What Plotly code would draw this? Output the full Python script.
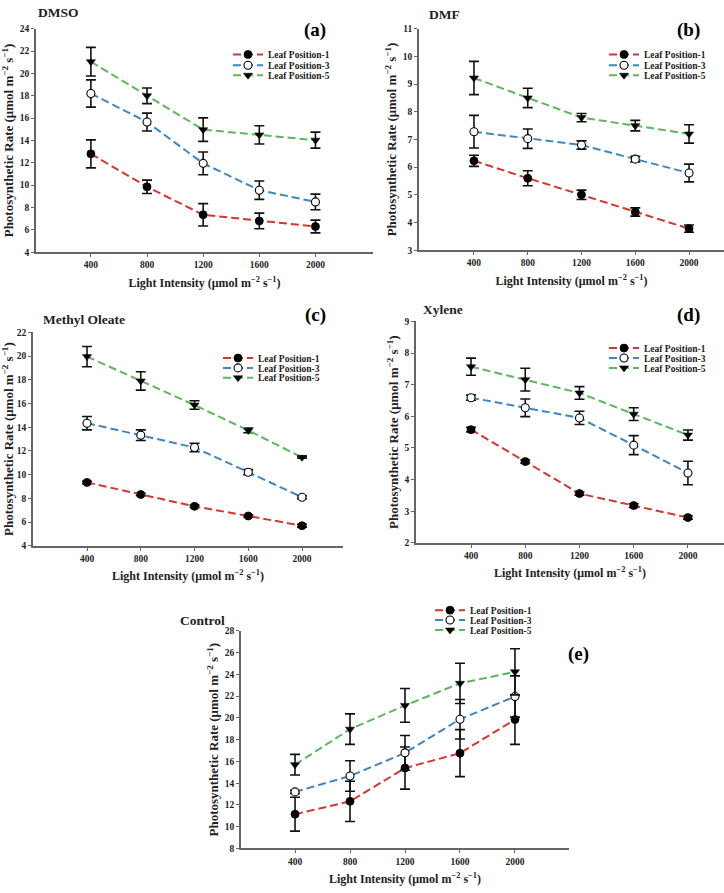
import plotly.graph_objects as go

W, H = 724, 893
light = [400, 800, 1200, 1600, 2000]
series_names = ["Leaf Position-1", "Leaf Position-3", "Leaf Position-5"]

# DMSO
dmso_lp1 = [12.8, 9.85, 7.35, 6.8, 6.3]
dmso_lp1_err = [1.25, 0.6, 1.0, 0.7, 0.57]
dmso_lp3 = [18.2, 15.65, 11.95, 9.55, 8.5]
dmso_lp3_err = [1.22, 0.8, 1.02, 0.82, 0.7]
dmso_lp5 = [21.05, 18.0, 14.97, 14.5, 14.03]
dmso_lp5_err = [1.28, 0.7, 1.05, 0.82, 0.72]
# DMF
dmf_lp1 = [6.23, 5.6, 5.0, 4.38, 3.78]
dmf_lp1_err = [0.2, 0.27, 0.17, 0.15, 0.13]
dmf_lp3 = [7.28, 7.03, 6.8, 6.29, 5.79]
dmf_lp3_err = [0.59, 0.35, 0.15, 0.1, 0.32]
dmf_lp5 = [9.22, 8.5, 7.79, 7.5, 7.2]
dmf_lp5_err = [0.6, 0.35, 0.15, 0.19, 0.33]
# Methyl Oleate
mo_lp1 = [9.35, 8.33, 7.33, 6.52, 5.7]
mo_lp1_err = [0.1, 0.1, 0.1, 0.1, 0.12]
mo_lp3 = [14.34, 13.33, 12.29, 10.21, 8.1]
mo_lp3_err = [0.56, 0.45, 0.36, 0.22, 0.12]
mo_lp5 = [19.95, 17.9, 15.87, 13.73, 11.46]
mo_lp5_err = [0.85, 0.77, 0.36, 0.2, 0.08]
# Xylene
xy_lp1 = [5.58, 4.57, 3.56, 3.18, 2.8]
xy_lp1_err = [0.07, 0.05, 0.05, 0.06, 0.05]
xy_lp3 = [6.59, 6.27, 5.95, 5.09, 4.21]
xy_lp3_err = [0.08, 0.28, 0.21, 0.3, 0.37]
xy_lp5 = [7.57, 7.16, 6.74, 6.07, 5.41]
xy_lp5_err = [0.27, 0.36, 0.2, 0.2, 0.16]
# Control
ct_lp1 = [11.15, 12.33, 15.39, 16.76, 19.85]
ct_lp1_err = [1.56, 1.85, 1.94, 2.16, 2.28]
ct_lp3 = [13.2, 14.66, 16.79, 19.88, 21.97]
ct_lp3_err = [0.15, 1.4, 1.6, 1.82, 1.9]
ct_lp5 = [15.7, 18.97, 21.15, 23.18, 24.24]
ct_lp5_err = [0.95, 1.4, 1.55, 1.85, 2.12]

panels = [
    dict(name="DMSO", tag="(a)", data=[(dmso_lp1, dmso_lp1_err), (dmso_lp3, dmso_lp3_err), (dmso_lp5, dmso_lp5_err)],
         yr=[4, 24], dt=2, box=(36, 373, 24, 250), xr=[9, 2410],
         title=(58, 8), label=(315, 25), leg=(228, [50, 61, 71])),
    dict(name="DMF", tag="(b)", data=[(dmf_lp1, dmf_lp1_err), (dmf_lp3, dmf_lp3_err), (dmf_lp5, dmf_lp5_err)],
         yr=[3, 11], dt=1, box=(419, 724, 24, 248), xr=[-9, 2260],
         title=(444, 10), label=(688, 25), leg=(604, [50, 61, 71])),
    dict(name="Methyl Oleate", tag="(c)", data=[(mo_lp1, mo_lp1_err), (mo_lp3, mo_lp3_err), (mo_lp5, mo_lp5_err)],
         yr=[4, 22], dt=2, box=(33, 343, 331, 547), xr=[-2, 2305],
         title=(84, 318), label=(315, 314), leg=(218, [357, 367, 377])),
    dict(name="Xylene", tag="(d)", data=[(xy_lp1, xy_lp1_err), (xy_lp3, xy_lp3_err), (xy_lp5, xy_lp5_err)],
         yr=[2, 9], dt=1, box=(416, 724, 320, 544), xr=[-6, 2266],
         title=(443, 308), label=(688, 314), leg=(604, [347, 357, 367])),
    dict(name="Control", tag="(e)", data=[(ct_lp1, ct_lp1_err), (ct_lp3, ct_lp3_err), (ct_lp5, ct_lp5_err)],
         yr=[8, 28], dt=2, box=(241, 569, 633, 853), xr=[7, 2393],
         title=(202, 622), label=(578, 656), leg=(430, [612, 622, 632])),
]

colors = ["#d8352f", "#3f86c4", "#5cb85c"]
markers = [
    dict(symbol="circle", size=8, color="black", line=dict(color="black", width=0.8)),
    dict(symbol="circle", size=8, color="white", line=dict(color="black", width=1.1)),
    dict(symbol="triangle-down", size=8, color="black", line=dict(color="black", width=0.5)),
]

FONT = "Liberation Serif"
fig = go.Figure()
layout = dict(width=W, height=H, margin=dict(l=0, r=0, t=0, b=0),
              paper_bgcolor="white", plot_bgcolor="white", showlegend=True,
              font=dict(family=FONT, color="#222"))
annotations = []
legend_idx = 0
for i, p in enumerate(panels):
    k = "" if i == 0 else str(i + 1)
    x0, x1, top, bot = p["box"]
    xd = [x0 / W, min(x1 / W, 1.0)]
    yd = [1 - bot / H, 1 - top / H]
    common = dict(showgrid=False, zeroline=False, showline=True, linecolor="#666", linewidth=1.5,
                  ticks="outside", ticklen=3, tickcolor="#666", tickwidth=1,
                  tickfont=dict(family=FONT, size=9.5, color="#222", weight="bold"))
    layout["xaxis" + k] = dict(domain=xd, range=p["xr"], tickvals=light, anchor="y" + k,
                               title=dict(text="<b>Light Intensity (μmol m<sup>−2</sup> s<sup>−1</sup>)</b>",
                                          font=dict(family=FONT, size=12, color="#222"), standoff=9),
                               **common)
    layout["yaxis" + k] = dict(domain=yd, range=p["yr"], dtick=p["dt"], tick0=0, anchor="x" + k,
                               title=dict(text="<b>Photosynthetic Rate (μmol m<sup>−2</sup> s<sup>−1</sup>)</b>",
                                          font=dict(family=FONT, size=13, color="#222"), standoff=3),
                               **common)
    for j, (vals, errs) in enumerate(p["data"]):
        legend_idx += 1
        lk = "legend" if legend_idx == 1 else "legend" + str(legend_idx)
        fig.add_trace(go.Scatter(
            x=light, y=vals, mode="lines+markers", name=series_names[j],
            line=dict(color=colors[j], width=2, dash="8px,4px"),
            marker=markers[j],
            error_y=dict(type="data", array=errs, visible=True, color="#111", thickness=1.6, width=5),
            xaxis="x" + k, yaxis="y" + k, legend=lk, cliponaxis=False))
        lx, rows = p["leg"]
        layout[lk] = dict(x=lx / W, y=1 - rows[j] / H, xanchor="left", yanchor="middle",
                          bgcolor="rgba(0,0,0,0)", borderwidth=0,
                          font=dict(family=FONT, size=9.5, color="#222", weight="bold"),
                          itemwidth=30, tracegroupgap=0)
    tx, ty = p["title"]
    annotations.append(dict(text="<b>" + p["name"] + "</b>", x=tx / W, y=1 - ty / H, xref="paper", yref="paper",
                            showarrow=False, xanchor="center", yanchor="middle",
                            font=dict(family=FONT, size=13.5, color="#222")))
    lx2, ly2 = p["label"]
    annotations.append(dict(text="<b>" + p["tag"] + "</b>", x=lx2 / W, y=1 - ly2 / H, xref="paper", yref="paper",
                            showarrow=False, xanchor="center", yanchor="middle",
                            font=dict(family=FONT, size=19, color="black")))
layout["annotations"] = annotations
fig.update_layout(**layout)
fig.write_html("out.html")
